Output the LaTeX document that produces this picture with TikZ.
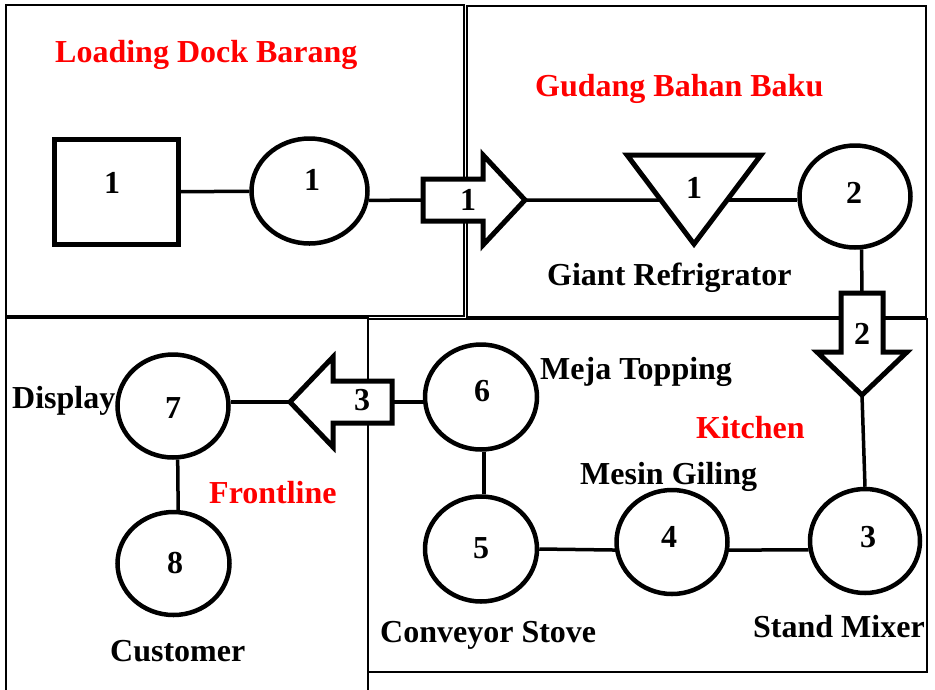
\documentclass[tikz,border=0pt]{standalone}
\usepackage{fontspec}
\setmainfont{Liberation Serif}
\usetikzlibrary{shapes.geometric, calc}
\definecolor{zonered}{RGB}{255,0,0}

\begin{document}
\begin{tikzpicture}[x=1pt, y=-1pt,
  font=\fontsize{32}{38}\selectfont\bfseries,
  frame/.style={line width=2pt},
  station/.style={ellipse, draw, line width=4.5pt, inner sep=0pt},
  symbol/.style={draw, fill=white, line width=5pt, line join=miter},
  flowline/.style={line width=3.5pt},
  num/.style={inner sep=0pt, anchor=base},
  caption/.style={inner sep=0pt, anchor=base west},
  zone/.style={caption, text=zonered}]
\useasboundingbox (0,0) rectangle (935,689);

% area frames
\draw[frame] (6,5) rectangle (464,316);
\draw[frame] (467,6) rectangle (926,317);
\draw[frame] (6,700) -- (6,318) -- (368,318) -- (368,700);
\draw[frame] (368,319) rectangle (927,672);

% area titles
\node[zone] (t-dock)    at (55,62)   {Loading Dock Barang};
\node[zone] (t-gudang)  at (535,96)  {Gudang Bahan Baku};
\node[zone] (t-kitchen) at (696,438) {Kitchen};
\node[zone] (t-front)   at (209,503) {Frontline};

% storage square and operation circles
\node[draw, line width=5pt, minimum width=124pt, minimum height=105pt, inner sep=0pt] (store1) at (116.5,192) {};
\node[station, minimum width=116pt, minimum height=105pt] (op1) at (309.5,191) {};
\node[station, minimum width=111pt, minimum height=102pt] (op2) at (855,196.5) {};
\node[station, minimum width=110pt, minimum height=104pt] (op3) at (865,541) {};
\node[station, minimum width=111pt, minimum height=104pt] (op4) at (672,542) {};
\node[station, minimum width=112pt, minimum height=105pt] (op5) at (481,549) {};
\node[station, minimum width=112pt, minimum height=105pt] (op6) at (481,397) {};
\node[station, minimum width=111pt, minimum height=103pt] (op7) at (173,406) {};
\node[station, minimum width=112pt, minimum height=103pt] (op8) at (173.5,563.5) {};

% refrigerator triangle
\coordinate (fl) at (627,155);
\coordinate (fr) at (761,155);
\coordinate (fb) at (694,244);
\draw[symbol] (fl) -- (fr) -- (fb) -- cycle;
\coordinate (fin)  at ($(fl)!0.506!(fb)$);
\coordinate (fout) at ($(fr)!0.506!(fb)$);

% transport arrows
\coordinate (m1tail) at (423,200);
\coordinate (m1tip)  at (525,200);
\draw[symbol] (423,179) -- (483,179) -- (483,155) -- (m1tip) -- (483,245) -- (483,221) -- (423,221) -- cycle;

\coordinate (m2tail) at (862,293);
\coordinate (m2tip)  at (862,395);
\draw[symbol] (841,293) -- (883,293) -- (883,352) -- (907,352) -- (m2tip) -- (817,352) -- (841,352) -- cycle;

\coordinate (m3tail) at (392,402);
\coordinate (m3tip)  at (290,402);
\draw[symbol] (392,381) -- (333,381) -- (333,357) -- (m3tip) -- (333,447) -- (333,423) -- (392,423) -- cycle;

% numbers
\node[num] (n-store1) at (112,193) {1};
\node[num] (n-op1)    at (312,190) {1};
\node[num] (n-m1)     at (468,210) {1};
\node[num] (n-fridge) at (694,198) {1};
\node[num] (n-op2)    at (854,203) {2};
\node[num] (n-m2)     at (862,344) {2};
\node[num] (n-op3)    at (868,547) {3};
\node[num] (n-op4)    at (669,547) {4};
\node[num] (n-op5)    at (481,558) {5};
\node[num] (n-op6)    at (482,401) {6};
\node[num] (n-m3)     at (362,410) {3};
\node[num] (n-op7)    at (173,418) {7};
\node[num] (n-op8)    at (175,573) {8};

% captions
\node[caption] (c-fridge) at (547,285) {Giant Refrigrator};
\node[caption] (c-display) at (12,408) {Display};
\node[caption] (c-customer) at (110,661) {Customer};
\node[caption] (c-topping) at (540,379) {Meja Topping};
\node[caption] (c-giling) at (580,484) {Mesin Giling};
\node[caption] (c-stove) at (380,642) {Conveyor Stove};
\node[caption] (c-mixer) at (753,637) {Stand Mixer};

% flow connectors
\draw[flowline] (store1) -- (op1);
\draw[flowline] (op1.-9) -- (m1tail);
\draw[flowline] (m1tip) -- (fin);
\draw[flowline] (fout) -- (fout -| op2.west);
\draw[flowline] (op2.-83) -- (m2tail);
\draw[flowline] (m2tip) -- (op3.north);
\draw[flowline] (op3.189) -- (op4.-8);
\draw[flowline] (op4.188) -- (op5.east);
\draw[flowline] (op5.87) -- (op6.-87);
\draw[flowline] (m3tail -| op6.west) -- (m3tail);
\draw[flowline] (m3tip) -- (m3tip -| op7.east);
\draw[flowline] (op7.-85) -- (op8.85);
\end{tikzpicture}
\end{document}
